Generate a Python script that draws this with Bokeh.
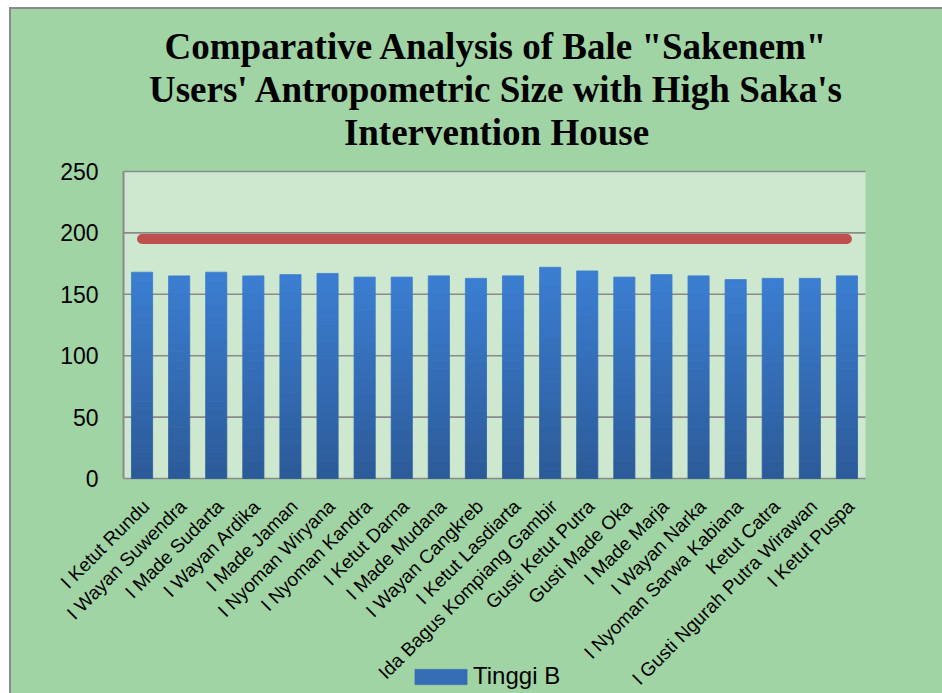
from bokeh.plotting import figure
from bokeh.models import Range1d, Legend, LegendItem, Title
from bokeh.core.properties import value
from bokeh.embed import file_html
from bokeh.resources import INLINE
import math

names = ["I Ketut Rundu", "I Wayan Suwendra", "I Made Sudarta", "I Wayan Ardika",
         "I Made Jaman", "I Nyoman Wiryana", "I Nyoman Kandra", "I Ketut Darna",
         "I Made Mudana", "I Wayan Cangkreb", "I Ketut Lasdiarta",
         "Ida Bagus Kompiang Gambir", "Gusti Ketut Putra", "Gusti Made Oka",
         "I Made Marja", "I Wayan Narka", "I Nyoman Sarwa Kabiana", "Ketut Catra",
         "I Gusti Ngurah Putra Wirawan", "I Ketut Puspa"]
tinggi_b = [168, 165, 168, 165, 166, 167, 164, 164, 165, 163, 165, 172, 169, 164,
            166, 165, 162, 163, 163, 165]
saka_height = [195] * len(names)
y_ticks = [0, 50, 100, 150, 200, 250]
y_tick_labels = ["0", "50", "100", "150", "200", "250"]

title_lines = ['Comparative Analysis of Bale "Sakenem"',
               "Users' Antropometric Size with High Saka's",
               "Intervention House"]

OUTER = "#A0D4A4"
INNER = "#CDE8CF"
GRID = "#8a8a8a"

n = len(names)
idx = list(range(n))
y_min, y_max = y_ticks[0], y_ticks[-1]

# layout geometry (pixels)
px_per_cat = 37.1
px_per_unit = 307 / (y_max - y_min)
x_start = -0.5 - 73 / px_per_cat
x_end = n - 0.5 + 77 / px_per_cat
y_end = y_max + 14 / px_per_unit
y_start = y_min - 215 / px_per_unit

p = figure(frame_width=892, frame_height=536,
           x_range=Range1d(x_start, x_end), y_range=Range1d(y_start, y_end),
           x_axis_location=None, y_axis_location=None,
           output_backend="svg", toolbar_location=None,
           min_border_left=39, min_border_right=0, min_border_top=148,
           min_border_bottom=0)
p.styles = {"margin-left": "9px", "margin-top": "7px", "background-color": OUTER,
            "border-left": "2px solid #8a8a8a", "border-top": "2px solid #8a8a8a"}
p.title = None
p.border_fill_color = None
p.background_fill_color = None
p.outline_line_color = None
p.xgrid.visible = False
p.ygrid.visible = False

# title lines (the first added sits closest to the plot)
p.add_layout(Title(text=" ", text_font_size="3px", standoff=0, text_color=OUTER), "above")
for line in reversed(title_lines):
    p.add_layout(Title(text=line, align="center", text_font="Liberation Serif",
                       text_font_size="37px", text_font_style="bold",
                       text_color="#000000", standoff=0), "above")

# plot area, grid lines and left border
p.quad(left=[-0.5], right=[n - 0.5], bottom=[y_min], top=[y_max],
       fill_color=INNER, line_color=None)
p.segment(x0=[-0.5] * len(y_ticks), x1=[n - 0.5] * len(y_ticks), y0=y_ticks, y1=y_ticks,
          line_color=GRID, line_width=1.6)
p.segment(x0=[-0.5], x1=[-0.5], y0=[y_min], y1=[y_max], line_color=GRID, line_width=2)

# gradient bars as stacked slices of each bar
n_slices = 24
top_rgb = (59, 126, 210)
bot_rgb = (44, 90, 152)
slice_renderers = []
for k in range(n_slices):
    f = (k + 0.5) / n_slices
    c = tuple(int(round(bot_rgb[i] + (top_rgb[i] - bot_rgb[i]) * f)) for i in range(3))
    col = "#%02x%02x%02x" % c
    r = p.vbar(x=idx, top=[v * (k + 1) / n_slices for v in tinggi_b],
               bottom=[v * k / n_slices for v in tinggi_b], width=0.57,
               fill_color=col, line_color=col, line_width=0.8)
    slice_renderers.append(r)

p.line(x=idx, y=saka_height, line_color="#C0504D", line_width=10, line_cap="round")

# y tick labels
p.text(x=[-0.5] * len(y_ticks), y=y_ticks, text=y_tick_labels, x_offset=-25,
       text_align="right", text_baseline="middle", text_font=value("Liberation Sans"),
       text_font_size="23px", text_color="#000000")

# category labels, rotated 45 degrees
label_y = y_min - 20
p.text(x=idx, y=[label_y] * n, text=names, angle=math.pi / 4, x_offset=4,
       text_align="right", text_baseline="middle", text_font=value("Liberation Sans"),
       text_font_size="19px", text_color="#000000")

legend = Legend(items=[LegendItem(label="Tinggi B", renderers=[slice_renderers[n_slices // 2]])],
                location=(358, 3), orientation="horizontal",
                glyph_width=65, glyph_height=19, label_standoff=0,
                label_text_font="Liberation Sans", label_text_font_size="24px",
                label_text_color="#000000", border_line_color=None,
                background_fill_alpha=0, padding=0, margin=0, spacing=0)
p.add_layout(legend, "center")

open("out.html", "w").write(file_html(p, INLINE))
